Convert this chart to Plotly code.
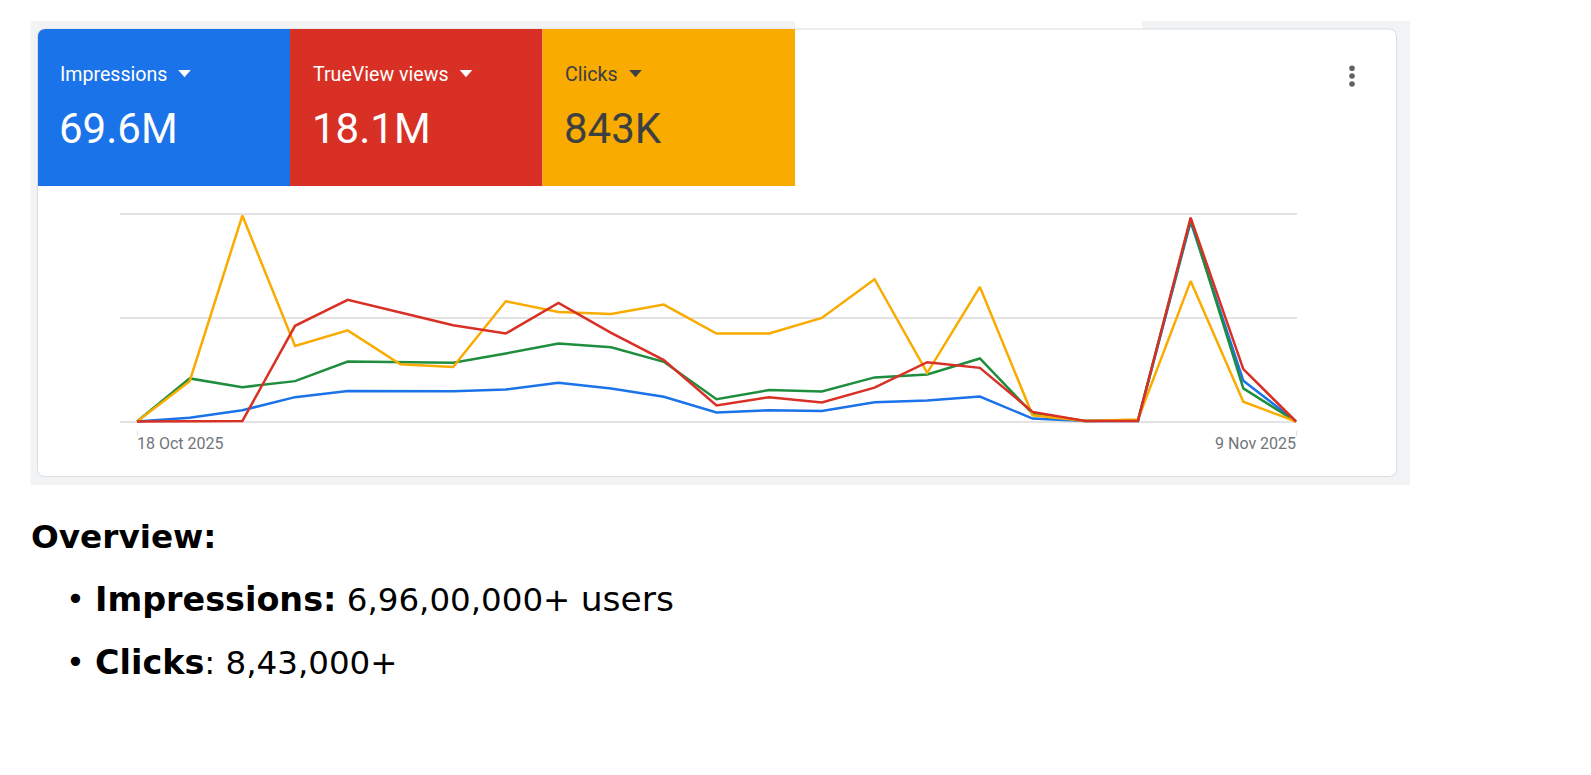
import plotly.graph_objects as go
import pandas as pd

W, H = 1591, 775

# ---------------- data ----------------
dates = pd.date_range("2025-10-18", "2025-11-09", freq="D")
# relative daily values (share of each series' own peak)
impressions = [0, 1.8, 5.4, 11.7, 14.7, 14.6, 14.6, 15.4, 18.6, 15.9, 11.9, 4.3,
               5.4, 5.1, 9.3, 10.1, 12.0, 1.4, 0.2, 0.3, 96, 19.6, 0]
engagements = [0, 20.7, 16.5, 19.4, 28.8, 28.4, 28.2, 32.7, 37.5, 35.7, 28.7, 10.7,
               15.1, 14.4, 21.2, 22.6, 30.3, 3.8, 0.2, 0.6, 97, 15.9, 0]
clicks = [0, 19.4, 99, 36.3, 43.8, 27.5, 26.2, 57.8, 52.6, 51.7, 56.2, 42.3,
          42.3, 49.8, 68.4, 23.4, 64.7, 3.0, 0.2, 1.0, 67.5, 9.5, 0]
trueview = [0, 0, 0.2, 46, 58.5, 52.4, 46.3, 42.3, 57, 42.6, 29.5, 7.7,
            11.7, 9.1, 16.3, 28.5, 25.8, 4.6, 0.2, 0.3, 98, 25.2, 0]

kpi_labels = ["Impressions", "TrueView views", "Clicks"]
kpi_values = ["69.6M", "18.1M", "843K"]
date_labels = ["18 Oct 2025", "9 Nov 2025"]

BLUE, RED, GREEN, ORANGE = "#1a73e8", "#d93025", "#1e8e3e", "#f9ab00"


def px(x):
    return x / W


def py(y):
    return 1 - y / H


def rect_path(x0, y0, x1, y1, r_tl=0, r_tr=0, r_br=0, r_bl=0):
    """rounded rectangle path in paper coords, input in pixels"""
    def P(x, y):
        return f"{px(x):.6f},{py(y):.6f}"
    d = f"M {P(x0 + r_tl, y0)} L {P(x1 - r_tr, y0)} "
    if r_tr:
        d += f"Q {P(x1, y0)} {P(x1, y0 + r_tr)} "
    d += f"L {P(x1, y1 - r_br)} "
    if r_br:
        d += f"Q {P(x1, y1)} {P(x1 - r_br, y1)} "
    d += f"L {P(x0 + r_bl, y1)} "
    if r_bl:
        d += f"Q {P(x0, y1)} {P(x0, y1 - r_bl)} "
    d += f"L {P(x0, y0 + r_tl)} "
    if r_tl:
        d += f"Q {P(x0, y0)} {P(x0 + r_tl, y0)} "
    d += "Z"
    return d


fig = go.Figure()
for name, vals, col in [("Impressions", impressions, BLUE),
                        ("Engagements", engagements, GREEN),
                        ("Clicks", clicks, ORANGE),
                        ("TrueView views", trueview, RED)]:
    fig.add_trace(go.Scatter(x=dates, y=vals, mode="lines", name=name,
                             line=dict(color=col, width=2.5), hoverinfo="skip"))

shapes = []
# grey page background
shapes.append(dict(type="rect", xref="paper", yref="paper", x0=px(30.5), x1=px(1410),
                   y0=py(485), y1=py(21), fillcolor="#f1f3f4", line=dict(width=0), layer="below"))
# white patch at top (screenshot composite)
shapes.append(dict(type="rect", xref="paper", yref="paper", x0=px(795), x1=px(1142),
                   y0=py(30), y1=py(0), fillcolor="white", line=dict(width=0), layer="below"))
# card
shapes.append(dict(type="path", xref="paper", yref="paper",
                   path=rect_path(37.5, 29, 1396.5, 476.5, 8, 8, 8, 8),
                   fillcolor="white", line=dict(color="#dadce0", width=1), layer="below"))
# KPI tiles
tile_x = [38, 290, 542.5, 795]
tile_cols = [BLUE, RED, ORANGE]
for i in range(3):
    shapes.append(dict(type="path", xref="paper", yref="paper",
                       path=rect_path(tile_x[i], 29, tile_x[i + 1], 186, 8 if i == 0 else 0),
                       fillcolor=tile_cols[i], line=dict(width=0), layer="below"))

txt_cols = ["white", "white", "#3c4043"]
text_x = [60, 312.5, 565]
tri_cx = [184.5, 466, 635.5]
annotations = []
for i in range(3):
    annotations.append(dict(text=kpi_labels[i], x=px(text_x[i]), y=py(74.2), xref="paper", yref="paper",
                            xanchor="left", yanchor="middle", showarrow=False,
                            font=dict(family="Roboto", size=19.6, color=txt_cols[i]),
                            borderpad=0, borderwidth=0))
    annotations.append(dict(text=kpi_values[i], x=px(text_x[i] - 1), y=py(128.4), xref="paper", yref="paper",
                            xanchor="left", yanchor="middle", showarrow=False,
                            font=dict(family="Roboto", size=42, color=txt_cols[i]),
                            borderpad=0, borderwidth=0))
    c = tri_cx[i]
    shapes.append(dict(type="path", xref="paper", yref="paper",
                       path=f"M {px(c-6.3)},{py(70)} L {px(c+6.3)},{py(70)} L {px(c)},{py(77.3)} Z",
                       fillcolor=txt_cols[i], line=dict(width=0), layer="above"))

# three-dot menu
for yy in (68.3, 76, 84):
    shapes.append(dict(type="circle", xref="paper", yref="paper",
                       x0=px(1352 - 2.8), x1=px(1352 + 2.8), y0=py(yy + 2.8), y1=py(yy - 2.8),
                       fillcolor="#5f6368", line=dict(width=0), layer="above"))

# axis date labels
annotations.append(dict(text=date_labels[0], x=dates[0], y=py(443.9), xref="x", yref="paper",
                        xanchor="left", yanchor="middle", showarrow=False,
                        font=dict(family="Roboto", size=16, color="#70757a"), borderpad=0, borderwidth=0))
annotations.append(dict(text=date_labels[1], x=dates[-1], y=py(443.9), xref="x", yref="paper",
                        xanchor="right", yanchor="middle", showarrow=False,
                        font=dict(family="Roboto", size=16, color="#70757a"), borderpad=0, borderwidth=0))

# overview text
FONT = "DejaVu Sans"
annotations.append(dict(text="<b>Overview:</b>", x=px(31), y=py(537), xref="paper", yref="paper",
                        xanchor="left", yanchor="middle", showarrow=False,
                        font=dict(family=FONT, size=32.7, color="black"), borderpad=0, borderwidth=0))
bullet_lines = [("<b><span style='font-size:33.4px'>Impressions:</span></b> 6,96,00,000+ <span style='font-size:34.5px'>users</span>", 599),
                ("<b><span style='font-size:33.4px'>Clicks</span></b>: 8,43,000+", 662)]
for t, yy in bullet_lines:
    annotations.append(dict(text="•", x=px(75.5), y=py(yy), xref="paper", yref="paper",
                            xanchor="center", yanchor="middle", showarrow=False,
                            font=dict(family=FONT, size=32, color="black"), borderpad=0, borderwidth=0))
    annotations.append(dict(text=t, x=px(94.5), y=py(yy), xref="paper", yref="paper",
                            xanchor="left", yanchor="middle", showarrow=False,
                            font=dict(family=FONT, size=32.5, color="black"), borderpad=0, borderwidth=0))

# axes geometry
day_px = (1296 - 137) / 22
x_lo = dates[0] - pd.Timedelta(days=17 / day_px)
x_hi = dates[-1] + pd.Timedelta(days=1 / day_px)
unit_px = (421.5 - 213.5) / 100
y_lo, y_hi = -4, 104
bot = 421.5 - y_lo * unit_px
top = 213.5 - (y_hi - 100) * unit_px

fig.update_layout(
    width=W, height=H,
    margin=dict(l=0, r=0, t=0, b=0),
    paper_bgcolor="white", plot_bgcolor="rgba(0,0,0,0)",
    showlegend=False,
    shapes=shapes, annotations=annotations,
    xaxis=dict(domain=[px(120), px(1297)], range=[x_lo, x_hi], type="date",
               showgrid=False, zeroline=False, showline=False,
               ticks="outside", ticklen=5, tickcolor="#e0e0e0", tickwidth=1,
               tickvals=[dates[0], dates[-1]], showticklabels=False, fixedrange=True),
    yaxis=dict(domain=[py(bot), py(top)], range=[y_lo, y_hi],
               tickvals=[0, 50, 100], showticklabels=False, showgrid=True,
               gridcolor="#e3e3e3", gridwidth=1.5, zeroline=False, showline=False, fixedrange=True),
)

fig.write_html("out.html")
